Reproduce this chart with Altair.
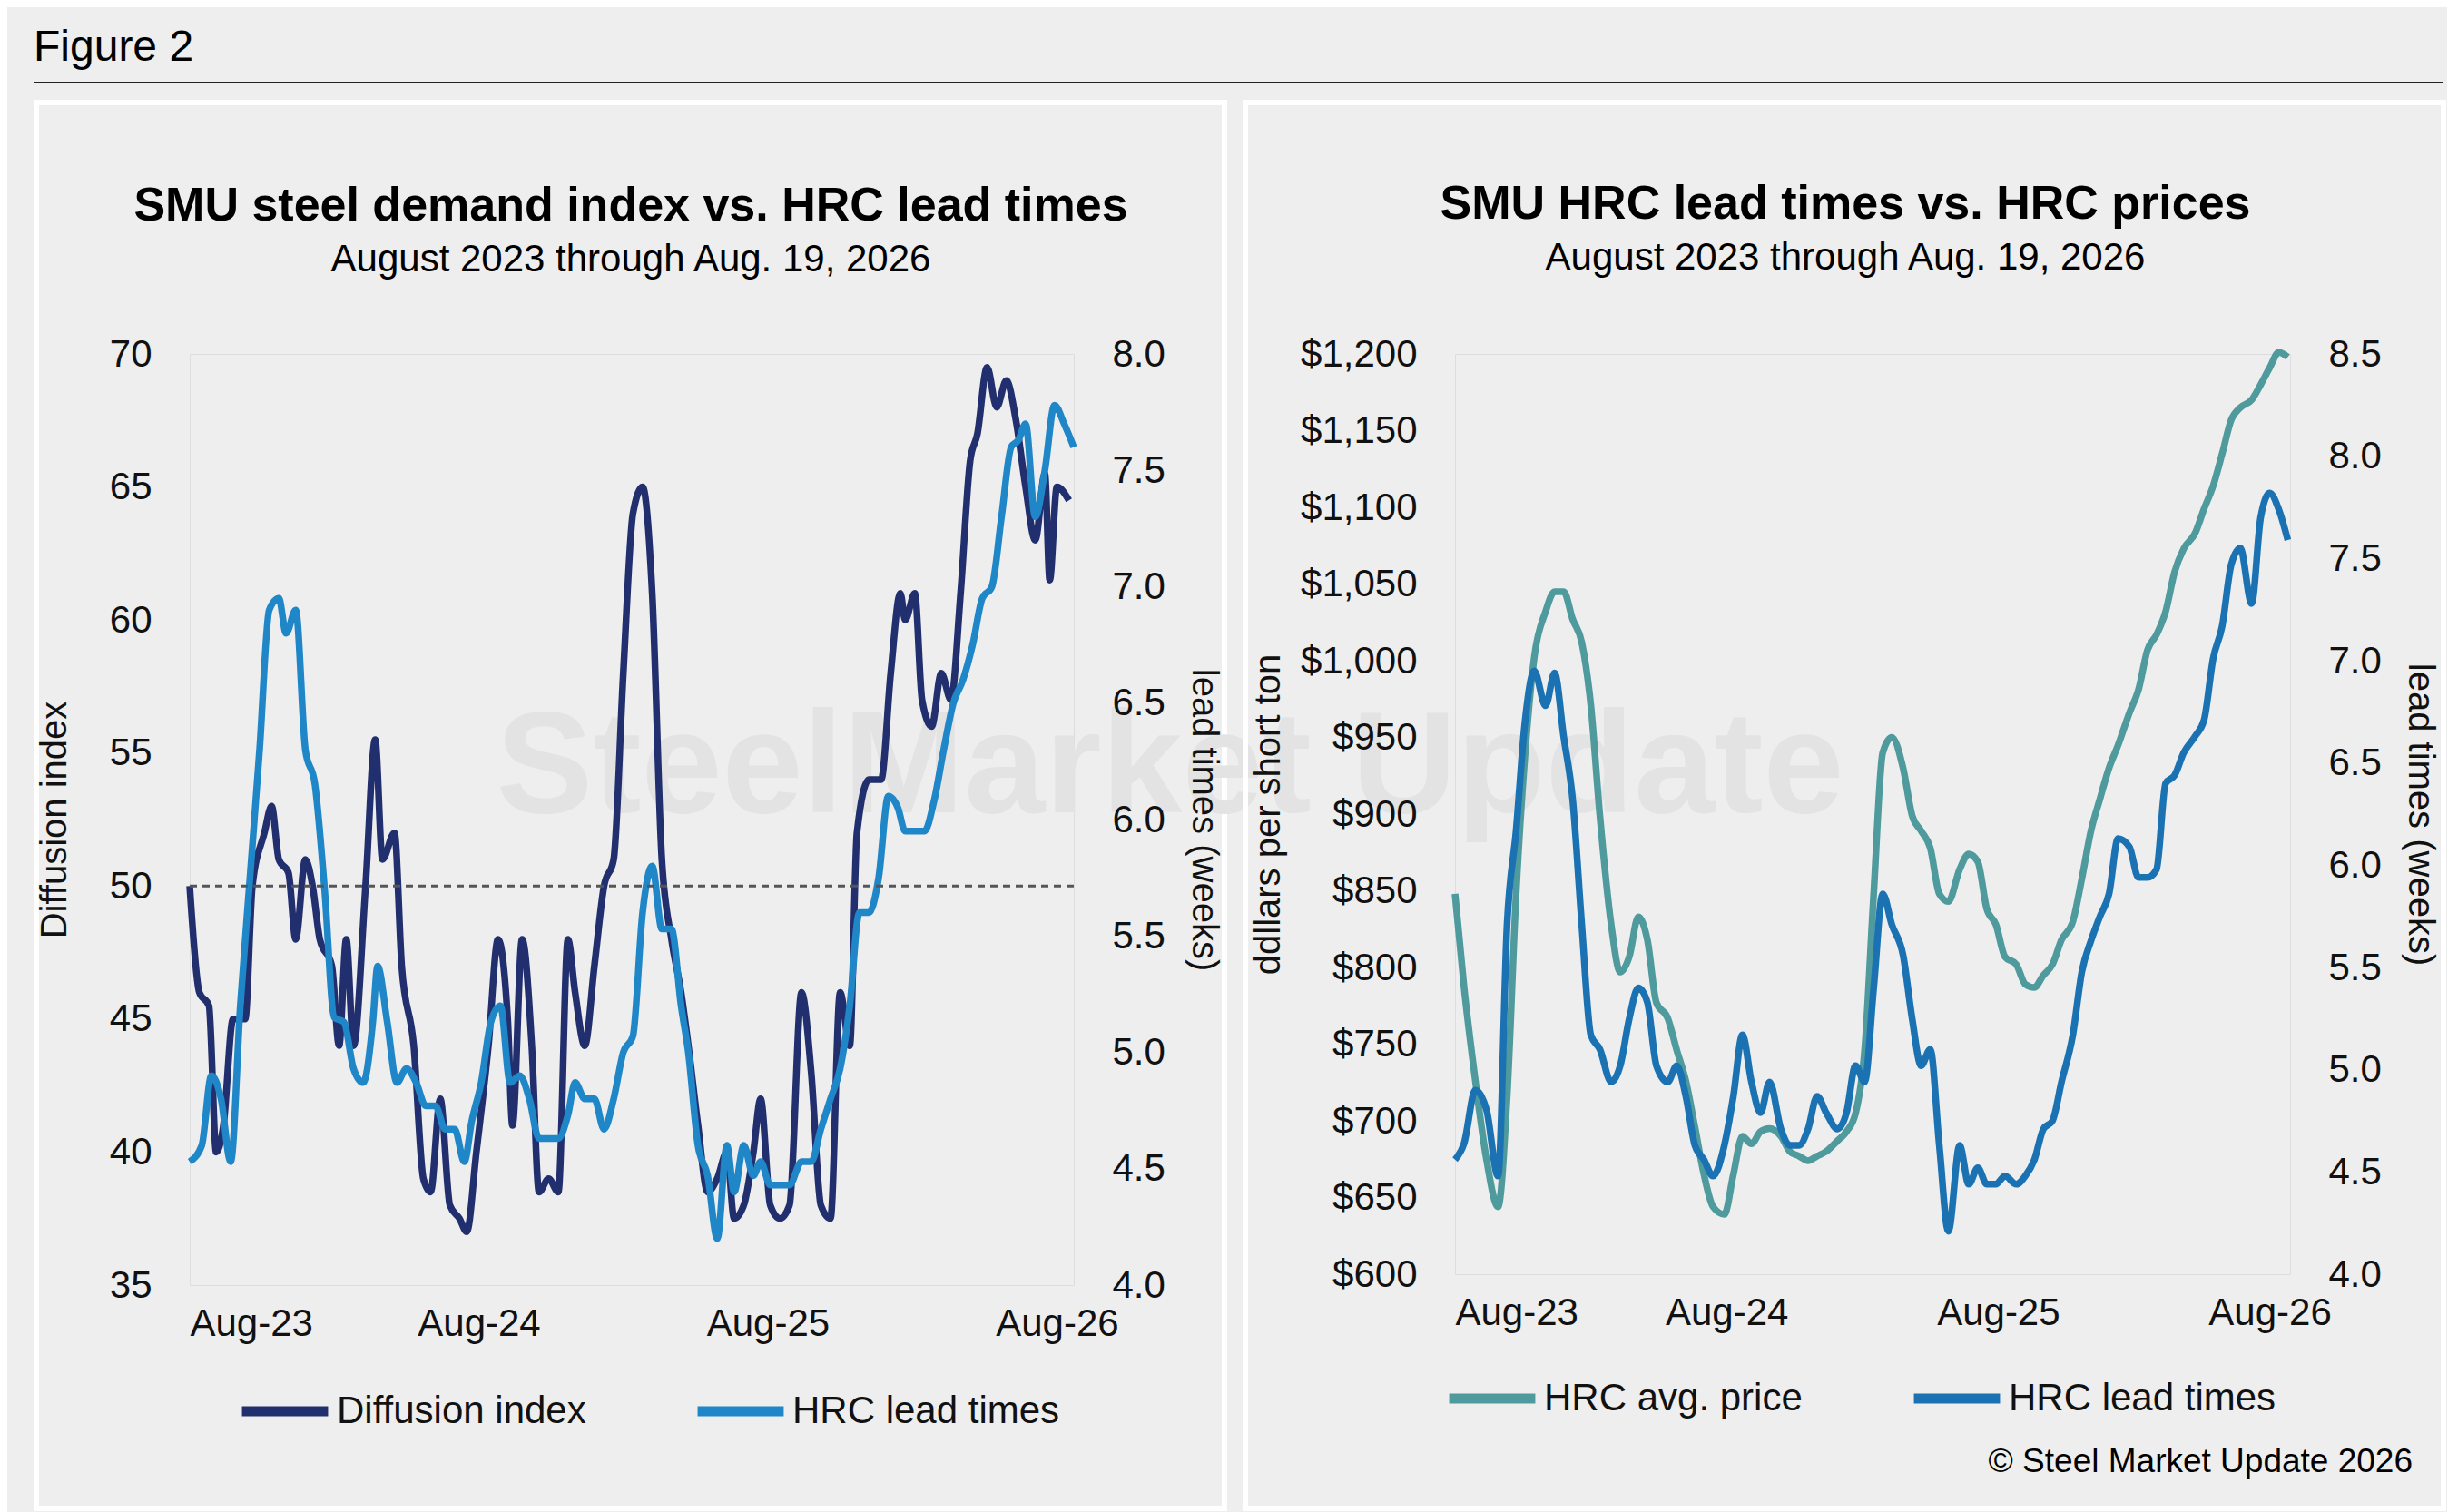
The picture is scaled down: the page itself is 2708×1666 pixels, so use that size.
import altair as alt
import pandas as pd

# ---- left panel: diffusion index vs lead times (x = months since Aug 2023)
di_month = [0, 0.4, 0.8, 1.1, 1.4, 1.8, 2.3, 2.6, 3.1, 3.4, 3.7, 4.1, 4.4, 4.8, 5.1, 5.4, 5.9, 6.2, 6.5, 6.8,
            7.3, 7.7, 8.0, 8.5, 8.8, 9.3, 9.7, 10.0, 10.4, 10.8, 11.2, 11.5, 11.9, 12.4, 12.8, 13.2, 13.4, 13.8,
            14.2, 14.5, 14.9, 15.3, 15.7, 16.0, 16.4, 16.8, 17.2, 17.6, 18.0, 18.4, 18.8, 19.2, 19.6, 20.0, 20.4,
            20.7, 21.1, 21.5, 21.9, 22.3, 22.6, 23.0, 23.4, 23.7, 24.1, 24.5, 24.9, 25.4, 25.8, 26.2, 26.6, 27.0,
            27.4, 27.7, 28.2, 28.7, 29.1, 29.5, 29.7, 30.1, 30.4, 30.8, 31.2, 31.6, 32.0, 32.4, 32.7, 33.1, 33.5,
            33.9, 34.3, 34.7, 35.1, 35.5, 35.7, 36.0, 36.5]
di_value = [50, 46, 45.5, 40, 41, 45, 45, 50, 52, 53, 51, 50.5, 48, 51, 50, 48, 47, 44, 48, 44,
            50, 55.5, 51, 52, 47, 44, 39, 38.5, 42, 38, 37.5, 37, 40, 44, 48, 45, 41, 48,
            44, 38.5, 39, 38.5, 48, 46, 44, 47, 50, 51, 58, 64, 65, 61, 51, 48, 46,
            44, 41, 38.5, 39, 40, 37.5, 38, 40, 42, 38, 37.5, 38, 46, 43, 38, 37.5, 46,
            44, 52, 54, 54, 58, 61, 60, 61, 57, 56, 58, 57, 61, 66, 67, 69.5, 68,
            69, 67.5, 65, 63, 65.5, 61.5, 65, 64.5]

lt_month = [0, 0.5, 0.9, 1.3, 1.7, 2.1, 2.5, 2.9, 3.3, 3.7, 4.0, 4.4, 4.8, 5.2, 5.6, 6.0, 6.4, 6.8, 7.2, 7.6,
            7.8, 8.2, 8.6, 9.0, 9.4, 9.8, 10.2, 10.6, 11.0, 11.4, 11.7, 12.1, 12.5, 12.9, 13.3, 13.7, 14.1,
            14.5, 14.9, 15.3, 15.7, 16.0, 16.4, 16.8, 17.2, 17.6, 18.0, 18.4, 18.8, 19.2, 19.6, 20.0, 20.4,
            20.7, 21.1, 21.5, 21.9, 22.3, 22.6, 23.0, 23.4, 23.7, 24.1, 24.5, 24.9, 25.4, 25.8, 26.2, 26.6,
            27.0, 27.4, 27.8, 28.2, 28.6, 29.0, 29.4, 29.7, 30.1, 30.5, 30.9, 31.3, 31.7, 32.1, 32.5, 32.9,
            33.3, 33.7, 34.1, 34.4, 34.7, 35.1, 35.5, 35.9, 36.3, 36.7]
lt_value = [4.53, 4.6, 4.9, 4.8, 4.53, 5.2, 5.75, 6.3, 6.9, 6.95, 6.8, 6.9, 6.3, 6.15, 5.7, 5.15, 5.13, 4.93,
            4.87, 5.13, 5.37, 5.13, 4.87, 4.93, 4.87, 4.77, 4.77, 4.67, 4.67, 4.53, 4.7, 4.87, 5.13, 5.2,
            4.87, 4.9, 4.8, 4.63, 4.63, 4.63, 4.73, 4.87, 4.8, 4.8, 4.67, 4.8, 5.0, 5.07, 5.6, 5.8, 5.53,
            5.53, 5.2, 5.0, 4.6, 4.47, 4.2, 4.6, 4.4, 4.6, 4.47, 4.53, 4.43, 4.43, 4.43, 4.53, 4.53, 4.67,
            4.8, 4.93, 5.2, 5.6, 5.6, 5.75, 6.1, 6.05, 5.95, 5.95, 5.95, 6.08, 6.3, 6.5, 6.6, 6.75, 6.95,
            7.0, 7.3, 7.6, 7.63, 7.7, 7.3, 7.5, 7.78, 7.7, 7.6]

# ---- right panel: lead times vs HRC price
r_month = [0, 0.4, 0.9, 1.4, 1.9, 2.3, 2.7, 3.1, 3.5, 4.0, 4.4, 4.8, 5.2, 5.6, 6.0, 6.4, 6.9, 7.3, 7.7, 8.1,
           8.5, 8.9, 9.4, 9.8, 10.2, 10.6, 11.0, 11.4, 11.9, 12.3, 12.7, 13.1, 13.5, 13.9, 14.4, 14.8, 15.2,
           15.6, 16.0, 16.4, 16.9, 17.3, 17.7, 18.1, 18.5, 18.9, 19.3, 19.8, 20.2, 20.6, 21.0, 21.4, 21.8,
           22.3, 22.7, 23.1, 23.5, 23.9, 24.3, 24.8, 25.2, 25.6, 26.0, 26.4, 26.8, 27.3, 27.7, 28.1, 28.5,
           28.9, 29.3, 29.8, 30.2, 30.6, 31.0, 31.4, 31.8, 32.2, 32.7, 33.1, 33.5, 33.9, 34.3, 34.7, 35.2,
           35.6, 36.0, 36.4, 36.8]
price = [848, 787, 726, 674, 644, 715, 848, 940, 1002, 1032, 1045, 1045, 1027, 1012, 971, 899, 828, 797, 807,
         833, 818, 777, 767, 746, 726, 696, 665, 644, 639, 665, 690, 685, 693, 695, 690, 680, 677, 674, 677,
         680, 687, 693, 705, 746, 848, 940, 950, 930, 899, 889, 878, 848, 843, 864, 874, 869, 838, 828, 807,
         802, 789, 787, 795, 802, 818, 830, 858, 889, 910, 930, 945, 966, 981, 1007, 1017, 1032, 1058, 1073,
         1083, 1099, 1114, 1135, 1157, 1165, 1170, 1180, 1191, 1201, 1198]
r_lead = [4.56, 4.64, 4.9, 4.8, 4.48, 5.71, 6.17, 6.71, 6.95, 6.78, 6.94, 6.63, 6.32, 5.71, 5.17, 5.1, 4.94,
          5.02, 5.25, 5.4, 5.33, 5.02, 4.94, 5.02, 4.87, 4.63, 4.56, 4.48, 4.63, 4.87, 5.17, 4.94, 4.79, 4.94,
          4.71, 4.63, 4.63, 4.71, 4.87, 4.79, 4.71, 4.79, 5.02, 4.94, 5.4, 5.86, 5.71, 5.56, 5.25, 5.02, 5.1,
          4.63, 4.21, 4.63, 4.44, 4.52, 4.44, 4.44, 4.48, 4.44, 4.48, 4.56, 4.71, 4.75, 4.94, 5.17, 5.48,
          5.63, 5.75, 5.86, 6.13, 6.09, 5.94, 5.94, 5.98, 6.4, 6.44, 6.55, 6.63, 6.71, 7.01, 7.17, 7.47,
          7.55, 7.28, 7.7, 7.82, 7.74, 7.59]

tick_months = [0, 12, 24, 36]
tick_labels = ["Aug-23", "Aug-24", "Aug-25", "Aug-26"]

FONT = "Liberation Sans"
BG = "#eeeeee"
label_expr = "[" + ",".join(f"'{t}'" for t in tick_labels) + "][round(datum.value/12)]"
one = pd.DataFrame({"a": [0]})
SUB = "August 2023 through Aug. 19, 2026"


def xaxis(maxm):
    return alt.X("m:Q", title=None, scale=alt.Scale(domain=[0, maxm], nice=False, zero=False),
                 axis=alt.Axis(values=tick_months, labelExpr=label_expr, grid=False, domain=False,
                               ticks=False, labelFontSize=42, labelPadding=22, labelColor="#111", zindex=1))


def yaxis(title, orient, tpad, **kw):
    return alt.Axis(title=title, orient=orient, grid=False, domain=False, ticks=False,
                    labelFontSize=42, titleFontSize=40, titleFontWeight="normal", titleColor="#111",
                    labelColor="#111", labelPadding=42, titlePadding=tpad, zindex=1, **kw)


def series(name, months, vals):
    return pd.DataFrame({"m": months, "v": vals, "series": name})


def legend(lx, ly):
    return alt.Legend(title=None, orient="none", legendX=lx, legendY=ly, direction="horizontal",
                      symbolType="stroke", symbolSize=9000, symbolStrokeWidth=11, labelFontSize=42,
                      columnPadding=100, labelColor="#111", labelLimit=0)


def text(t, x, y, size, color="#000", **kw):
    return alt.Chart(pd.DataFrame({"t": [t]})).mark_text(fontSize=size, color=color, font=FONT, **kw).encode(
        x=alt.value(x), y=alt.value(y), text="t:N")


# ---------- left panel
LW, LH = 974, 1026
l_dom = ["Diffusion index", "HRC lead times"]
l_col = alt.Scale(domain=l_dom, range=["#222f6e", "#1f86c8"])

panel_l = alt.Chart(one).mark_rect(fill=None, stroke="white", strokeWidth=6).encode(
    x=alt.value(-169), x2=alt.value(1140), y=alt.value(-277), y2=alt.value(1272))
figline = alt.Chart(one).mark_rule(color="#222", strokeWidth=2).encode(
    x=alt.value(-172), x2=alt.value(2483), y=alt.value(-299))
figtext = text("Figure 2", -172, -337, 48, align="left", baseline="middle")
l_title = text("SMU steel demand index vs. HRC lead times", 486, -163, 52, fontWeight="bold", baseline="middle")
l_sub = text(SUB, 486, -104, 42, baseline="middle")
watermark = text("SteelMarket Update", 1080, 457, 160, color="#e3e3e3", fontWeight="bold")
ref50 = alt.Chart(pd.DataFrame({"v": [50], "m0": [0], "m1": [36.7]})).mark_rule(
    color="#555", strokeDash=[8, 6], strokeWidth=3).encode(
    x=alt.X("m0:Q", scale=alt.Scale(domain=[0, 36.7], nice=False)), x2="m1:Q",
    y=alt.Y("v:Q", scale=alt.Scale(domain=[35, 70]), axis=None))

di = alt.Chart(series(l_dom[0], di_month, di_value)).mark_line(
    strokeWidth=7.5, interpolate="monotone").encode(
    x=xaxis(36.7),
    y=alt.Y("v:Q", scale=alt.Scale(domain=[35, 70]),
            axis=yaxis("Diffusion index", "left", 40, values=list(range(35, 71, 5)))),
    color=alt.Color("series:N", scale=l_col, legend=legend(52, 1112)))
lt = alt.Chart(series(l_dom[1], lt_month, lt_value)).mark_line(
    strokeWidth=7.5, interpolate="monotone").encode(
    x=xaxis(36.7),
    y=alt.Y("v:Q", scale=alt.Scale(domain=[4, 8]),
            axis=yaxis("lead times (weeks)", "right", 22, values=[4 + 0.5 * i for i in range(9)], format=".1f")),
    color=alt.Color("series:N", scale=l_col, legend=legend(52, 1112)))

left = alt.layer(panel_l, figline, figtext, l_title, l_sub, watermark, di, lt, ref50).resolve_scale(
    y="independent").properties(width=LW, height=LH)

# ---------- right panel
RW, RH = 920, 1014
r_dom = ["HRC avg. price", "HRC lead times"]
r_col = alt.Scale(domain=r_dom, range=["#4f9a9c", "#1a72b3"])

panel_r = alt.Chart(one).mark_rect(fill=None, stroke="white", strokeWidth=6).encode(
    x=alt.value(-231), x2=alt.value(1089), y=alt.value(-277), y2=alt.value(1272))
r_title = text("SMU HRC lead times vs. HRC prices", 430, -165, 52, fontWeight="bold", baseline="middle")
r_sub = text(SUB, 430, -106, 42, baseline="middle")
footer = text("© Steel Market Update 2026", 1055, 1221, 37, align="right")

pr = alt.Chart(series(r_dom[0], r_month, price)).mark_line(strokeWidth=7.5, interpolate="monotone").encode(
    x=xaxis(36.9),
    y=alt.Y("v:Q", scale=alt.Scale(domain=[600, 1200]),
            axis=yaxis("ddllars per short ton", "left", 15, values=list(range(600, 1201, 50)), format="$,.0f")),
    color=alt.Color("series:N", scale=r_col, legend=legend(-12, 1098)))
rl = alt.Chart(series(r_dom[1], r_month, r_lead)).mark_line(strokeWidth=7.5, interpolate="monotone").encode(
    x=xaxis(36.9),
    y=alt.Y("v:Q", scale=alt.Scale(domain=[4, 8.5]),
            axis=yaxis("lead times (weeks)", "right", 22, values=[4 + 0.5 * i for i in range(10)], format=".1f")),
    color=alt.Color("series:N", scale=r_col, legend=legend(-12, 1098)))

right = alt.layer(panel_r, r_title, r_sub, footer, pr, rl).resolve_scale(y="independent").properties(
    width=RW, height=RH)

chart = alt.hconcat(left, right, spacing=420, bounds="flush").resolve_scale(color="independent").properties(
    background=BG, padding={"left": 27, "top": 20, "right": 0, "bottom": 0}
).configure_view(stroke=None).configure(font=FONT)

chart.save("out.html", embed_options={"renderer": "svg", "actions": False})
